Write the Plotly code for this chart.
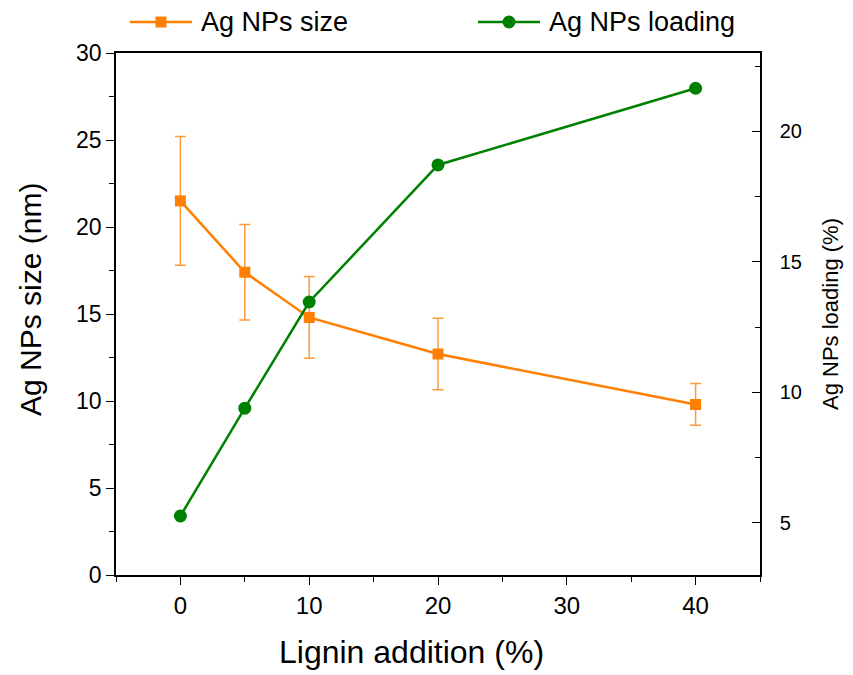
import plotly.graph_objects as go

lignin = [0, 5, 10, 20, 40]
size_nm = [21.5, 17.4, 14.8, 12.7, 9.8]
size_err = [3.7, 2.75, 2.35, 2.05, 1.2]
loading = [5.26, 9.39, 13.46, 18.71, 21.65]

ORANGE = "#FF7F00"
GREEN = "#008000"
FONT = "Liberation Sans, Arial, sans-serif"

W, H = 853, 675
ML, MR, MT, MB = 116, 93, 53, 100
PW, PH = W - ML - MR, H - MT - MB


def px(xp):
    return (xp - ML) / PW


def py(yp):
    return (H - MB - yp) / PH


fig = go.Figure()
fig.add_trace(go.Scatter(
    x=lignin, y=size_nm, name="Ag NPs size", mode="lines+markers",
    line=dict(color=ORANGE, width=2.5),
    marker=dict(symbol="square", size=11, color=ORANGE),
    error_y=dict(type="data", array=size_err, visible=True, color="#FF9A3C", thickness=1.5, width=5.5),
    yaxis="y", showlegend=False))
fig.add_trace(go.Scatter(
    x=lignin, y=loading, name="Ag NPs loading", mode="lines+markers",
    line=dict(color=GREEN, width=2.5),
    marker=dict(symbol="circle", size=13, color=GREEN),
    yaxis="y2", showlegend=False))

# custom legend (long line samples like the original)
legend_items = [
    ("Ag NPs size", ORANGE, "rect", 130, 192, 199),
    ("Ag NPs loading", GREEN, "circle", 478, 540, 547),
]
LEG_Y = 22
shapes = []
annotations = []
for label, col, sym, lx0, lx1, tx in legend_items:
    shapes.append(dict(type="line", xref="paper", yref="paper",
                       x0=px(lx0), x1=px(lx1), y0=py(LEG_Y), y1=py(LEG_Y),
                       line=dict(color=col, width=2.5)))
    half = 5.5 if sym == "rect" else 6.5
    shapes.append(dict(type=sym, xref="paper", yref="paper",
                       xsizemode="pixel", ysizemode="pixel",
                       xanchor=px((lx0 + lx1) / 2), yanchor=py(LEG_Y),
                       x0=-half, x1=half, y0=-half, y1=half,
                       fillcolor=col, line=dict(color=col, width=0)))
    annotations.append(dict(text=label, xref="paper", yref="paper",
                            x=px(tx), y=py(LEG_Y), xanchor="left", yanchor="middle",
                            showarrow=False, font=dict(size=27, family=FONT, color="black")))

# axis titles placed as in the original
annotations.append(dict(text="Lignin addition (%)", xref="paper", yref="paper",
                        x=px(411), y=py(652), xanchor="center", yanchor="middle",
                        showarrow=False, font=dict(size=32, family=FONT, color="black")))
annotations.append(dict(text="Ag NPs size (nm)", xref="paper", yref="paper",
                        x=px(30), y=py(300), xanchor="center", yanchor="middle", textangle=-90,
                        showarrow=False, font=dict(size=30, family=FONT, color="black")))

fig.update_layout(
    width=W, height=H,
    margin=dict(l=ML, r=MR, t=MT, b=MB),
    paper_bgcolor="white", plot_bgcolor="white",
    font=dict(family=FONT, color="black"),
    showlegend=False,
    shapes=shapes, annotations=annotations,
    xaxis=dict(range=[-5, 45], tickvals=[0, 10, 20, 30, 40], ticks="outside", ticklen=8,
               tickwidth=1.2, tickcolor="black", showline=True, linecolor="black", linewidth=1.5,
               mirror=True, showgrid=False, zeroline=False,
               tickfont=dict(size=24),
               minor=dict(dtick=5, tick0=0, ticks="outside", ticklen=5, tickcolor="black", showgrid=False)),
    yaxis=dict(range=[0, 30], dtick=5, ticks="outside", ticklen=8, tickwidth=1.2, tickcolor="black",
               showline=True, linecolor="black", linewidth=1.5, mirror=True,
               showgrid=False, zeroline=False, tickfont=dict(size=23),
               minor=dict(dtick=2.5, tick0=0, ticks="outside", ticklen=5, tickcolor="black", showgrid=False)),
    yaxis2=dict(range=[3, 23], tickvals=[5, 10, 15, 20], overlaying="y", side="right",
                ticks="inside", ticklen=8, tickwidth=1.2, tickcolor="black",
                showline=True, linecolor="black", linewidth=1.5,
                showgrid=False, zeroline=False, tickfont=dict(size=20),
                ticklabelstandoff=14,
                minor=dict(dtick=2.5, tick0=0, ticks="inside", ticklen=5, tickcolor="black", showgrid=False),
                title=dict(text="Ag NPs loading (%)", font=dict(size=22), standoff=22)),
)

fig.write_html("out.html")
